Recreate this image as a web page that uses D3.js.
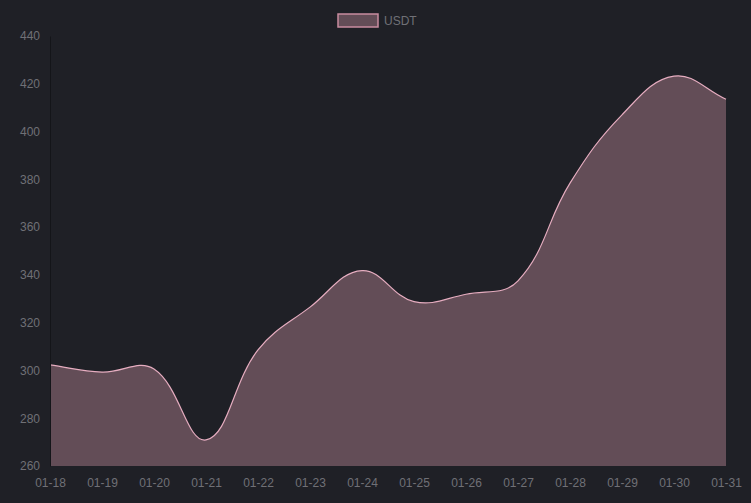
<!DOCTYPE html>
<html>
<head>
<meta charset="utf-8">
<script src="https://cdn.jsdelivr.net/npm/d3@7"></script>
<style>
  html, body { margin: 0; padding: 0; background: #1f2026; }
  svg { display: block; }
  text { font-family: "Liberation Sans", Arial, Helvetica, sans-serif; }
</style>
</head>
<body>
<div id="chart"></div>
<script>
const labels = ["01-18","01-19","01-20","01-21","01-22","01-23","01-24","01-25","01-26","01-27","01-28","01-29","01-30","01-31"];
const usdt = [302.3, 299.3, 300.6, 270.9, 308.6, 326.5, 341.8, 328.8, 331.9, 337.5, 378.4, 407.0, 423.2, 413.5];
const yTicks = [260, 280, 300, 320, 340, 360, 380, 400, 420, 440];
const seriesName = "USDT";

const W = 751, H = 503;
const area = { left: 50, right: 726, top: 36, bottom: 466 };
const colors = { bg: "#1f2026", fill: "#634d57", line: "#e6adc0", text: "#707076", axis: "#141519" };

const svg = d3.select("#chart").append("svg").attr("width", W).attr("height", H);
svg.append("rect").attr("width", W).attr("height", H).attr("fill", colors.bg);

const x = d3.scalePoint().domain(labels).range([area.left, area.right]);
const y = d3.scaleLinear().domain([260, 440]).range([area.bottom, area.top]);

// Chart.js-style spline (tension 0.4) as a d3 curve
function makeCurve(tension, minY, maxY, minX, maxX) {
  function C(context) { this._context = context; }
  C.prototype = {
    areaStart() { this._line = 0; },
    areaEnd() { this._line = NaN; },
    lineStart() { this._pts = []; },
    point(px, py) { this._pts.push([+px, +py]); },
    lineEnd() {
      const p = this._pts, n = p.length, c = this._context;
      if (n) {
        this._line ? c.lineTo(p[0][0], p[0][1]) : c.moveTo(p[0][0], p[0][1]);
        const cps = p.map((cur, i) => {
          const prev = i > 0 ? p[i - 1] : cur;
          const next = i < n - 1 ? p[i + 1] : cur;
          const d01 = Math.hypot(cur[0] - prev[0], cur[1] - prev[1]);
          const d12 = Math.hypot(next[0] - cur[0], next[1] - cur[1]);
          let s01 = d01 / (d01 + d12), s12 = d12 / (d01 + d12);
          if (!isFinite(s01)) s01 = 0;
          if (!isFinite(s12)) s12 = 0;
          const fa = tension * s01, fb = tension * s12;
          const clampY = v => Math.max(minY, Math.min(maxY, v));
          const clampX = v => Math.max(minX, Math.min(maxX, v));
          return {
            prev: [clampX(cur[0] - fa * (next[0] - prev[0])), clampY(cur[1] - fa * (next[1] - prev[1]))],
            next: [clampX(cur[0] + fb * (next[0] - prev[0])), clampY(cur[1] + fb * (next[1] - prev[1]))]
          };
        });
        for (let i = 1; i < n; i++) {
          c.bezierCurveTo(cps[i - 1].next[0], cps[i - 1].next[1], cps[i].prev[0], cps[i].prev[1], p[i][0], p[i][1]);
        }
      }
      if (this._line || (this._line !== 0 && n === 1)) c.closePath();
      this._line = 1 - this._line;
    }
  };
  return ctx => new C(ctx);
}
const curve = makeCurve(0.4, area.top, area.bottom, area.left, area.right);

const data = labels.map((l, i) => ({ label: l, value: usdt[i] }));

// fill area
svg.append("path")
  .datum(data)
  .attr("fill", colors.fill)
  .attr("d", d3.area().x(d => x(d.label)).y0(y(260)).y1(d => y(d.value)).curve(curve));

// line
svg.append("path")
  .datum(data)
  .attr("fill", "none")
  .attr("stroke", colors.line)
  .attr("stroke-width", 1.2)
  .attr("d", d3.line().x(d => x(d.label)).y(d => y(d.value)).curve(curve));

// y axis
const yAxis = svg.append("g").attr("transform", `translate(${area.left},0)`)
  .call(d3.axisLeft(y).tickValues(yTicks).tickSize(0).tickPadding(10).tickFormat(d3.format("d")));
yAxis.select(".domain").attr("stroke", colors.axis).attr("stroke-width", 1);
yAxis.selectAll("text").attr("fill", colors.text).attr("font-size", 12)
  .attr("font-family", "'Liberation Sans', Arial, sans-serif");

// x axis
const xAxis = svg.append("g").attr("transform", `translate(0,${area.bottom})`)
  .call(d3.axisBottom(x).tickSize(0).tickPadding(12));
xAxis.select(".domain").remove();
xAxis.selectAll("text").attr("fill", colors.text).attr("font-size", 12)
  .attr("font-family", "'Liberation Sans', Arial, sans-serif");

// legend
const legend = svg.append("g").attr("transform", "translate(338,14)");
legend.append("rect").attr("x", 0).attr("y", 0).attr("width", 40).attr("height", 13)
  .attr("fill", colors.fill).attr("stroke", "#c98ca0").attr("stroke-width", 1.5);
legend.append("text").attr("x", 46).attr("y", 6.5).attr("dy", "0.35em")
  .attr("fill", colors.text).attr("font-size", 12).text(seriesName);
</script>
</body>
</html>
